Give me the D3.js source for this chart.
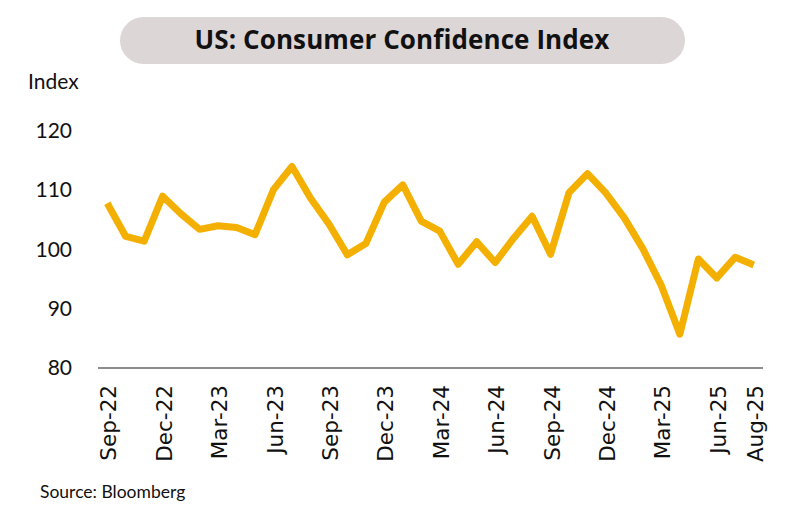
<!DOCTYPE html>
<html>
<head>
<meta charset="utf-8">
<script src="https://cdn.jsdelivr.net/npm/d3@7.8.5/dist/d3.min.js"></script>
<style>
  html, body { margin: 0; padding: 0; background: #fff; }
  svg { display: block; }
</style>
</head>
<body>
<div id="chart"></div>
<script>
// Monthly readings, Sep-22 .. Aug-25
const months = [
  'Sep-22', 'Oct-22', 'Nov-22', 'Dec-22', 'Jan-23', 'Feb-23', 'Mar-23', 'Apr-23', 'May-23',
  'Jun-23', 'Jul-23', 'Aug-23', 'Sep-23', 'Oct-23', 'Nov-23', 'Dec-23', 'Jan-24', 'Feb-24',
  'Mar-24', 'Apr-24', 'May-24', 'Jun-24', 'Jul-24', 'Aug-24', 'Sep-24', 'Oct-24', 'Nov-24',
  'Dec-24', 'Jan-25', 'Feb-25', 'Mar-25', 'Apr-25', 'May-25', 'Jun-25', 'Jul-25', 'Aug-25'
];
const confidence = [
  107.8, 102.2, 101.4, 109.0, 106.0, 103.4, 104.0, 103.7, 102.5,
  110.1, 114.0, 108.7, 104.3, 99.1, 101.0, 108.0, 110.9, 104.8,
  103.1, 97.5, 101.3, 97.8, 101.9, 105.6, 99.2, 109.6, 112.8,
  109.5, 105.3, 100.1, 93.9, 85.7, 98.4, 95.2, 98.7, 97.4
];
const xTickLabels = ['Sep-22', 'Dec-22', 'Mar-23', 'Jun-23', 'Sep-23', 'Dec-23', 'Mar-24',
  'Jun-24', 'Sep-24', 'Dec-24', 'Mar-25', 'Jun-25', 'Aug-25'];
const yTicks = [80, 90, 100, 110, 120];

const width = 800, height = 527;
const plot = { left: 98, right: 763, top: 131, bottom: 368 };

const svg = d3.select('#chart').append('svg')
  .attr('width', width)
  .attr('height', height);

// Title pill
svg.append('rect')
  .attr('x', 120).attr('y', 17)
  .attr('width', 565).attr('height', 47)
  .attr('rx', 23.5)
  .attr('fill', '#dcd6d7');

svg.append('text')
  .attr('x', 402).attr('y', 40)
  .attr('dy', '0.35em')
  .attr('text-anchor', 'middle')
  .style('font-family', '"Open Sans", sans-serif')
  .style('font-weight', 'bold')
  .style('font-size', '26px')
  .style('letter-spacing', '0.1px')
  .style('fill', '#111')
  .text('US: Consumer Confidence Index');

const x = d3.scalePoint()
  .domain(months)
  .range([plot.left, plot.right])
  .padding(0.5);

const y = d3.scaleLinear()
  .domain([80, 120])
  .range([plot.bottom, plot.top]);

// Y axis labels (no axis line)
const yAxis = svg.append('g')
  .attr('transform', 'translate(72,0)')
  .call(d3.axisLeft(y).tickValues(yTicks).tickSize(0).tickPadding(0));
yAxis.select('.domain').remove();
yAxis.selectAll('text')
  .style('font-family', 'Lato, sans-serif')
  .style('font-size', '21px')
  .style('fill', '#111');

svg.append('text')
  .attr('x', 28).attr('y', 82)
  .attr('dy', '0.35em')
  .style('font-family', 'Lato, sans-serif')
  .style('font-size', '21px')
  .style('fill', '#111')
  .text('Index');

// X axis
const xAxis = svg.append('g')
  .attr('transform', `translate(0,${plot.bottom})`)
  .call(d3.axisBottom(x).tickValues(xTickLabels).tickSize(0).tickPadding(0));
xAxis.select('.domain')
  .attr('d', `M${plot.left},0H${plot.right}`)
  .attr('stroke', '#666')
  .attr('stroke-width', 1.5);
xAxis.selectAll('text')
  .attr('transform', 'rotate(-90)')
  .attr('x', -17)
  .attr('y', 1)
  .attr('dy', '0.35em')
  .attr('text-anchor', 'end')
  .style('font-family', '"DejaVu Sans", Verdana, sans-serif')
  .style('font-size', '21.5px')
  .style('fill', '#111');

// Line
const line = d3.line()
  .x((d, i) => x(months[i]))
  .y(d => y(d));

svg.append('path')
  .datum(confidence)
  .attr('fill', 'none')
  .attr('stroke', '#f4b000')
  .attr('stroke-width', 7)
  .attr('stroke-linejoin', 'round')
  .attr('d', line);

svg.append('text')
  .attr('x', 40).attr('y', 492)
  .attr('dy', '0.35em')
  .style('font-family', 'Lato, sans-serif')
  .style('font-size', '17.5px')
  .style('fill', '#111')
  .text('Source: Bloomberg');
</script>
</body>
</html>
